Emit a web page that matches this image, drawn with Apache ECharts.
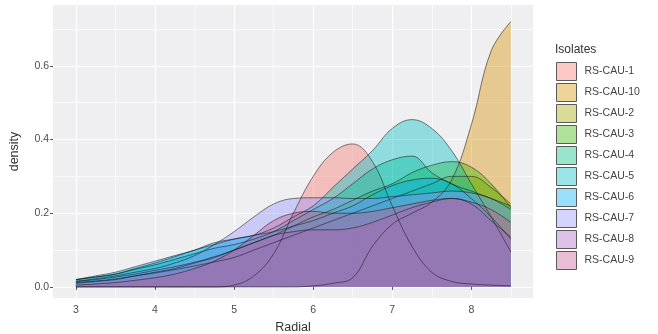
<!DOCTYPE html>
<html>
<head>
<meta charset="utf-8">
<script src="https://cdn.jsdelivr.net/npm/echarts@6/dist/echarts.min.js"></script>
<style>
html,body{margin:0;padding:0;background:#fff;}
#chart{width:658px;height:334px;}
</style>
</head>
<body>
<div id="chart"></div>
<script>
// Radial values (x) shared by all density curves
var radial = [3.00,3.25,3.50,3.75,4.00,4.25,4.50,4.75,5.00,5.25,5.50,5.75,6.00,6.25,6.50,6.75,7.00,7.25,7.50,7.75,8.00,8.25,8.50];

var isolates = ['RS-CAU-1','RS-CAU-10','RS-CAU-2','RS-CAU-3','RS-CAU-4','RS-CAU-5','RS-CAU-6','RS-CAU-7','RS-CAU-8','RS-CAU-9'];

var cau1  = [0,0,0,0,0,0,0,0,0.005,0.03,0.09,0.20,0.30,0.365,0.388,0.34,0.22,0.11,0.04,0.015,0.008,0.005,0.003];
var cau10 = [0,0,0,0,0,0,0,0,0,0,0,0,0.003,0.01,0.025,0.11,0.17,0.20,0.23,0.29,0.44,0.64,0.72];
var cau2  = [0.012,0.016,0.022,0.030,0.038,0.047,0.057,0.068,0.080,0.100,0.120,0.140,0.160,0.180,0.200,0.220,0.240,0.260,0.280,0.300,0.300,0.270,0.225];
var cau3  = [0.015,0.020,0.027,0.035,0.045,0.055,0.067,0.082,0.100,0.120,0.140,0.165,0.190,0.210,0.235,0.260,0.280,0.310,0.330,0.340,0.325,0.280,0.215];
var cau4  = [0.020,0.027,0.035,0.048,0.060,0.075,0.090,0.105,0.115,0.130,0.150,0.180,0.210,0.240,0.280,0.320,0.345,0.355,0.310,0.280,0.260,0.240,0.220];
var cau5  = [0.020,0.027,0.035,0.050,0.065,0.082,0.100,0.115,0.130,0.140,0.160,0.190,0.220,0.270,0.320,0.370,0.430,0.454,0.430,0.370,0.280,0.190,0.095];
var cau6  = [0.020,0.030,0.040,0.055,0.070,0.085,0.100,0.120,0.130,0.140,0.150,0.165,0.180,0.200,0.220,0.250,0.275,0.290,0.295,0.280,0.240,0.190,0.130];
var cau7  = [0.015,0.022,0.030,0.040,0.050,0.065,0.085,0.115,0.150,0.190,0.225,0.240,0.242,0.242,0.240,0.240,0.245,0.250,0.255,0.260,0.255,0.240,0.210];
var cau8  = [0.010,0.015,0.020,0.030,0.040,0.050,0.065,0.080,0.100,0.120,0.140,0.150,0.155,0.155,0.160,0.175,0.195,0.215,0.230,0.240,0.225,0.180,0.135];
var cau9  = [0.005,0.008,0.012,0.018,0.025,0.035,0.050,0.070,0.100,0.140,0.180,0.200,0.205,0.200,0.200,0.205,0.215,0.225,0.235,0.240,0.230,0.210,0.175];

var seriesValues = [cau1, cau10, cau2, cau3, cau4, cau5, cau6, cau7, cau8, cau9];
var hues = ['#F8766D','#D89000','#A3A500','#39B600','#00BF7D','#00BFC4','#00B0F6','#9590FF','#AA64C8','#C85A91'];

var xMajor = [3,4,5,6,7,8];
var xMinor = [3.5,4.5,5.5,6.5,7.5,8.5];
var yMajor = [0,0.2,0.4,0.6];
var yMinor = [0.1,0.3,0.5,0.7];

function rgba(hex, a){
  var r=parseInt(hex.substr(1,2),16), g=parseInt(hex.substr(3,2),16), b=parseInt(hex.substr(5,2),16);
  return 'rgba('+r+','+g+','+b+','+a+')';
}
var ALPHA = 0.4;

var series = isolates.map(function(name, i){
  return {
    name: name,
    type: 'line',
    xAxisIndex: 0, yAxisIndex: 0,
    smooth: 0.4,
    symbol: 'none',
    data: radial.map(function(x, j){ return [x, seriesValues[i][j]]; }),
    lineStyle: {color: 'rgba(20,20,20,0.6)', width: 0.9},
    itemStyle: {color: hues[i]},
    areaStyle: {color: rgba(hues[i], ALPHA), opacity: 1},
    emphasis: {disabled: true},
    silent: true
  };
});

var XMIN = 2.71, XMAX = 8.78, YMIN = -0.03, YMAX = 0.765;
var labelStyle = {color: '#4D4D4D', fontSize: 10.5, fontFamily: 'Liberation Sans, Arial, sans-serif'};

var option = {
  animation: false,
  backgroundColor: '#ffffff',
  grid: {left: 53, top: 5, width: 480, height: 293, show: true, backgroundColor: '#EFEFF1', borderWidth: 0,
         containLabel: false, outerBoundsMode: 'none'},
  title: {
    text: 'Isolates', left: 550, top: 39,
    textStyle: {fontSize: 12, fontWeight: 'normal', color: '#333', fontFamily: 'Liberation Sans, Arial, sans-serif'}
  },
  legend: {
    orient: 'vertical', left: 551, top: 57,
    itemWidth: 20, itemHeight: 18, itemGap: 2,
    icon: 'rect',
    selectedMode: false,
    textStyle: {fontSize: 10.5, color: '#444', fontFamily: 'Liberation Sans, Arial, sans-serif', padding: [0,0,0,3]},
    data: isolates.map(function(n, i){
      return {name: n, icon: 'rect', itemStyle: {color: rgba(hues[i], ALPHA), borderColor: '#5a5a5a', borderWidth: 1}};
    })
  },
  xAxis: [{
    type: 'value', min: XMIN, max: XMAX,
    name: 'Radial', nameLocation: 'middle', nameGap: 21,
    nameTextStyle: {fontSize: 12.5, color: '#333', fontFamily: 'Liberation Sans, Arial, sans-serif'},
    axisLine: {show: false},
    axisTick: {show: true, length: 3, lineStyle: {color: '#555'}, customValues: xMajor},
    axisLabel: Object.assign({customValues: xMajor, margin: 7}, labelStyle),
    splitLine: {show: true, lineStyle: {color: '#ffffff', width: 1.2}}
  }, {
    type: 'value', min: XMIN, max: XMAX, position: 'bottom',
    axisLine: {show: false},
    axisTick: {show: false, customValues: xMinor},
    axisLabel: {show: false, customValues: xMinor},
    splitLine: {show: true, lineStyle: {color: '#ffffff', width: 0.6}}
  }],
  yAxis: [{
    type: 'value', min: YMIN, max: YMAX,
    name: 'density', nameLocation: 'middle', nameGap: 32, nameRotate: 90,
    nameTextStyle: {fontSize: 12.5, color: '#333', fontFamily: 'Liberation Sans, Arial, sans-serif'},
    axisLine: {show: false},
    axisTick: {show: true, length: 3, lineStyle: {color: '#555'}, customValues: yMajor},
    axisLabel: Object.assign({customValues: yMajor, margin: 4, formatter: function(v){ return v.toFixed(1); }}, labelStyle),
    splitLine: {show: true, lineStyle: {color: '#ffffff', width: 1.2}}
  }, {
    type: 'value', min: YMIN, max: YMAX, position: 'left',
    axisLine: {show: false},
    axisTick: {show: false, customValues: yMinor},
    axisLabel: {show: false, customValues: yMinor},
    splitLine: {show: true, lineStyle: {color: '#ffffff', width: 0.6}}
  }],
  series: series
};

var chart = echarts.init(document.getElementById('chart'), null, {renderer: 'canvas'});
chart.setOption(option);
</script>
</body>
</html>
